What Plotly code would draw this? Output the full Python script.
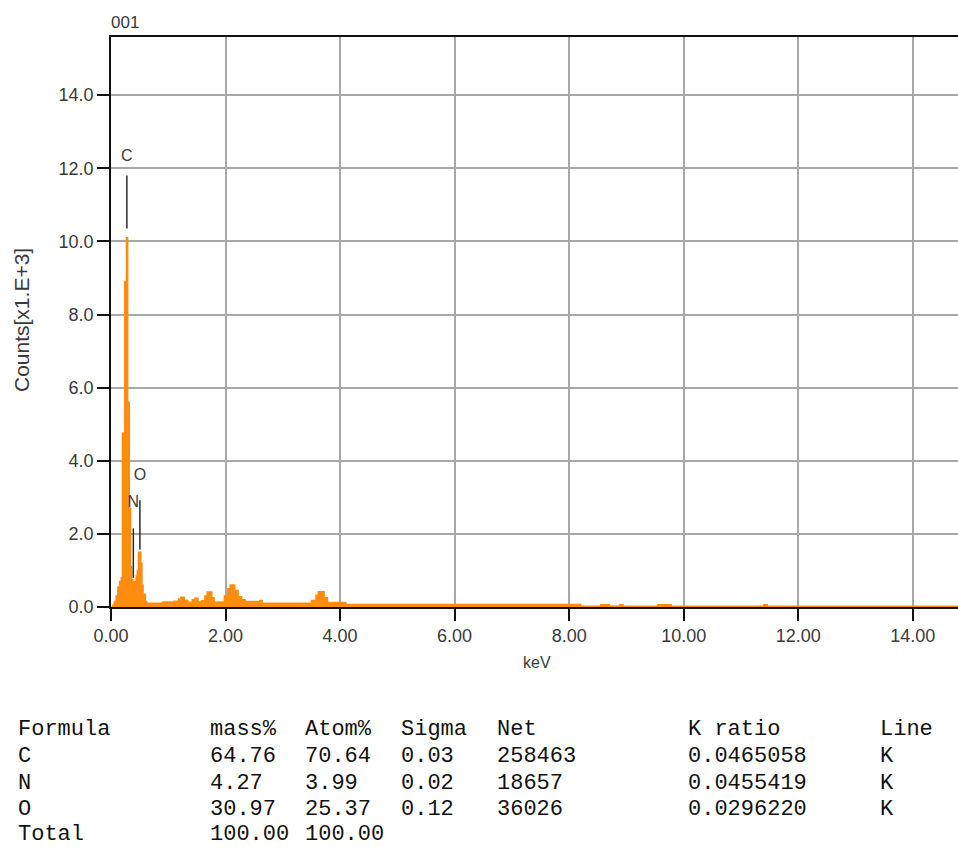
import plotly.graph_objects as go

# ---------------- data ----------------
# spectrum bins: left edge energy (keV) and counts (x1000)
energy_kev = [0.00, 0.03, 0.06, 0.09, 0.12, 0.15, 0.18, 0.20, 0.24, 0.27, 0.29, 0.32,
              0.34, 0.36, 0.38, 0.40, 0.44, 0.46, 0.48, 0.52, 0.54, 0.56, 0.60, 0.62,
              0.90, 1.10, 1.18, 1.22, 1.28, 1.34, 1.42, 1.46, 1.52, 1.58, 1.64, 1.68,
              1.76, 1.80, 1.86, 1.98, 2.04, 2.08, 2.16, 2.22, 2.28, 2.34, 2.60, 2.64,
              3.50, 3.58, 3.62, 3.72, 3.78, 4.10, 8.20, 8.55, 8.70, 8.88, 8.94, 9.55,
              9.78, 11.40, 11.46, 14.79]
counts_k = [0.00, 0.05, 0.15, 0.30, 0.55, 0.70, 0.80, 4.75, 8.90, 10.10, 5.60, 2.70,
            1.10, 0.75, 0.65, 0.70, 0.85, 1.00, 1.50, 1.20, 0.60, 0.35, 0.15, 0.10,
            0.14, 0.16, 0.22, 0.27, 0.18, 0.13, 0.20, 0.24, 0.14, 0.17, 0.30, 0.41,
            0.25, 0.13, 0.14, 0.30, 0.50, 0.60, 0.45, 0.28, 0.20, 0.15, 0.18, 0.10,
            0.18, 0.32, 0.42, 0.25, 0.12, 0.07, 0.02, 0.06, 0.02, 0.06, 0.02, 0.06,
            0.02, 0.06, 0.02, 0.02]

# element markers
elements = ["C", "N", "O"]
element_kev = [0.277, 0.390, 0.505]
marker_low = [10.35, 0.80, 1.57]
marker_high = [11.80, 2.15, 2.92]
label_y = [12.30, 2.85, 3.58]

x_ticks = [0, 2, 4, 6, 8, 10, 12, 14]
y_ticks = [0, 2, 4, 6, 8, 10, 12, 14]

# quantification table
headers = ["Formula", "mass%", "Atom%", "Sigma", "Net", "K ratio", "Line"]
col_formula = ["C", "N", "O", "Total"]
col_mass = ["64.76", "4.27", "30.97", "100.00"]
col_atom = ["70.64", "3.99", "25.37", "100.00"]
col_sigma = ["0.03", "0.02", "0.12", ""]
col_net = ["258463", "18657", "36026", ""]
col_kratio = ["0.0465058", "0.0455419", "0.0296220", ""]
col_line = ["K", "K", "K", ""]

# ---------------- layout geometry ----------------
W, H = 958, 847
L, R, T, B = 111, 958, 37, 607
XMAX, YMAX = 14.79, 15.59

def px2x(px):
    return (px - L) / (R - L)

def py2y(py):
    return (B - py) / (B - T)

ORANGE = "#FF8C0F"
TXT = "#3a3a3a"
SANS = "Liberation Sans, Arial, sans-serif"
MONO = "Liberation Mono, Courier New, monospace"

fig = go.Figure()

fig.add_trace(go.Scatter(
    x=energy_kev, y=counts_k, mode="lines", line=dict(color=ORANGE, width=1.5, shape="hv"),
    fill="tozeroy", fillcolor=ORANGE, hoverinfo="skip", showlegend=False))

mx, my = [], []
for e, lo, hi in zip(element_kev, marker_low, marker_high):
    mx += [e, e, None]
    my += [lo, hi, None]
fig.add_trace(go.Scatter(x=mx, y=my, mode="lines", line=dict(color="#2a2a2a", width=1.5),
                         hoverinfo="skip", showlegend=False))
fig.add_trace(go.Scatter(x=element_kev, y=label_y, mode="text", text=elements,
                         textfont=dict(family=SANS, size=16, color=TXT),
                         hoverinfo="skip", showlegend=False))

annotations = []
annotations.append(dict(text="001", xref="paper", yref="paper", x=px2x(109), y=py2y(23),
                        xanchor="left", yanchor="middle", showarrow=False,
                        font=dict(family=SANS, size=17, color=TXT)))
annotations.append(dict(text="Counts[x1.E+3]", xref="paper", yref="paper", x=px2x(21), y=py2y(320),
                        xanchor="center", yanchor="middle", textangle=-90, showarrow=False,
                        font=dict(family=SANS, size=21, color=TXT)))
annotations.append(dict(text="keV", xref="paper", yref="paper", x=px2x(537), y=py2y(662),
                        xanchor="center", yanchor="middle", showarrow=False,
                        font=dict(family=SANS, size=16, color=TXT)))

char_w = 13.68
col_chars = [0, 14, 21, 28, 35, 49, 63]
row_y = [729, 756, 783, 809, 834]
columns = [col_formula, col_mass, col_atom, col_sigma, col_net, col_kratio, col_line]
for ci, (hdr, col) in enumerate(zip(headers, columns)):
    cells = [hdr] + col
    for ri, cell in enumerate(cells):
        if not cell:
            continue
        annotations.append(dict(text=cell, xref="paper", yref="paper",
                                x=px2x(17 + col_chars[ci] * char_w), y=py2y(row_y[ri]),
                                xanchor="left", yanchor="middle", showarrow=False,
                                borderpad=0,
                                font=dict(family=MONO, size=22, color="#111111")))

fig.update_layout(
    width=W, height=H, margin=dict(l=L, r=W - R, t=T, b=H - B, pad=0),
    paper_bgcolor="white", plot_bgcolor="white", showlegend=False,
    annotations=annotations,
    xaxis=dict(range=[0, XMAX], tickvals=x_ticks, tickformat=".2f",
               ticks="outside", ticklen=12, tickwidth=1.5, tickcolor="#111",
               showline=True, linecolor="#111", linewidth=1.5, mirror=True,
               showgrid=True, gridcolor="#a8a8a8", gridwidth=1.5, zeroline=False,
               tickfont=dict(family=SANS, size=18, color=TXT)),
    yaxis=dict(range=[0, YMAX], tickvals=y_ticks, tickformat=".1f",
               ticks="outside", ticklen=12, tickwidth=1.5, tickcolor="#111",
               showline=True, linecolor="#111", linewidth=1.5, mirror=False,
               showgrid=True, gridcolor="#a8a8a8", gridwidth=1.5, zeroline=False,
               tickfont=dict(family=SANS, size=18, color=TXT)),
)

fig.write_html(
    "out.html",
    config={"displayModeBar": False},
    post_script=("document.body.style.margin='0';"
                 "document.body.style.overflow='hidden';"
                 "document.documentElement.style.overflow='hidden';"),
)
